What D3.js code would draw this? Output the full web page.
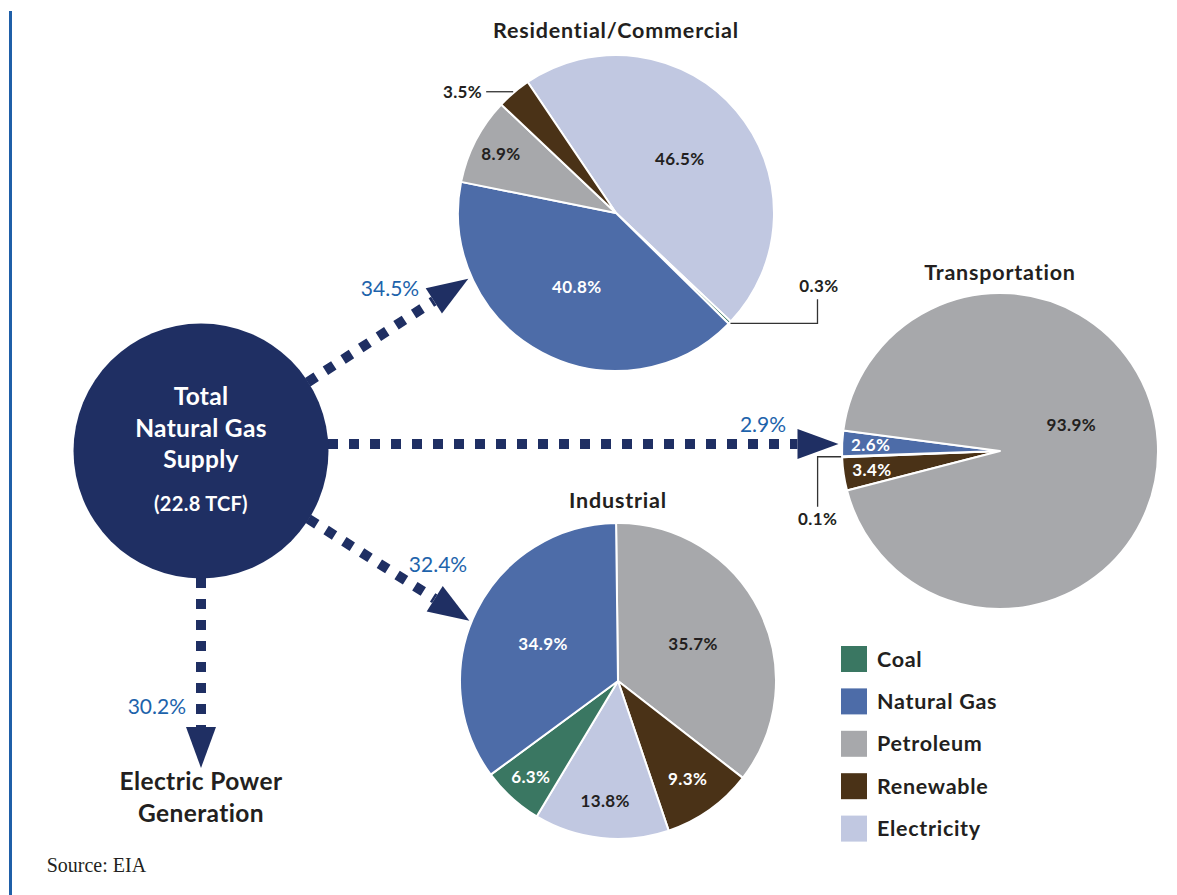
<!DOCTYPE html>
<html><head><meta charset="utf-8">
<script src="https://cdn.jsdelivr.net/npm/d3@7/dist/d3.min.js"></script>
<style>body{margin:0;background:#fff}svg{display:block}</style>
</head><body><svg id="c" width="1177" height="895"></svg>
<script>
// ---------------- data ----------------
const categories = ["Coal","Natural Gas","Petroleum","Renewable","Electricity"];
const categoryColors = ["#3a7762","#4d6ca8","#a7a8ab","#4a3217","#c1c8e1"];
const resCategories = ["Electricity","Coal","Natural Gas","Petroleum","Renewable"];
const resValues = [46.5,0.3,40.8,8.9,3.5];
const transCategories = ["Renewable","Electricity","Natural Gas","Petroleum"];
const transValues = [3.4,0.1,2.6,93.9];
const indCategories = ["Petroleum","Renewable","Electricity","Coal","Natural Gas"];
const indValues = [35.7,9.3,13.8,6.3,34.9];
const sectorNames = ["Residential/Commercial","Transportation","Industrial","Electric Power Generation"];
const sectorShares = [34.5,2.9,32.4,30.2];
const totalSupplyTCF = 22.8;

// ---------------- setup ----------------
const svg = d3.select("#c");
const FONT = "Lato, 'Open Sans', sans-serif";
const DARK = "#231f20", NAVY = "#1f2f63", BLUE = "#1d63ab";
const color = d3.scaleOrdinal().domain(categories).range(categoryColors);
const whiteText = new Set(["Natural Gas","Renewable","Coal"]);
const rad = d => d * Math.PI / 180;
const fmt = v => d3.format(".1f")(v) + "%";

// left rule
svg.append("line").attr("x1",10.5).attr("x2",10.5).attr("y1",11).attr("y2",895)
  .attr("stroke","#1f5fa8").attr("stroke-width",3);

// ---------------- pies ----------------
const pies = [
  {name: sectorNames[0], cats: resCategories, vals: resValues, cx:616, cy:213, r:158, start:-34, titleY:38,
   leaders: {"Renewable": {h:-27, v:0, tx:-4, ty:6, anchor:"end"},
             "Coal": {h:87, v:-24, tx:1.5, ty:-7, anchor:"middle"}}},
  {name: sectorNames[1], cats: transCategories, vals: transValues, cx:1000, cy:451, r:158, start:-104.5, titleY:280,
   angleOverride: {"Petroleum": 70}, radiusOverride: {"Petroleum": 0.48},
   leaders: {"Electricity": {h:-23.5, v:50, tx:0, ty:18, anchor:"middle"}}},
  {name: sectorNames[2], cats: indCategories, vals: indValues, cx:618, cy:681, r:158, start:-0.7, titleY:508,
   leaders: {}}
];

pies.forEach(p => {
  const data = p.cats.map((c,i) => ({cat:c, value:p.vals[i]}));
  const pie = d3.pie().value(d => d.value).sort(null)
    .startAngle(rad(p.start)).endAngle(rad(p.start + 360));
  const arcs = pie(data);
  const arc = d3.arc().innerRadius(0).outerRadius(p.r);
  const g = svg.append("g").attr("transform", `translate(${p.cx},${p.cy})`);
  g.selectAll("path").data(arcs).join("path")
    .attr("d", arc).attr("fill", d => color(d.data.cat))
    .attr("stroke", "#fff").attr("stroke-width", 2).attr("stroke-linejoin","round");

  // title
  svg.append("text").attr("x", p.cx).attr("y", p.titleY).attr("text-anchor","middle")
    .attr("font-family", FONT).attr("font-weight", 700).attr("font-size", 21.5)
    .attr("letter-spacing", 0.8).attr("fill", DARK).text(p.name);

  arcs.forEach(a => {
    const mid = (a.startAngle + a.endAngle) / 2;
    const lead = p.leaders[a.data.cat];
    if (lead) {
      const sx = Math.sin(mid) * (p.r + 1), sy = -Math.cos(mid) * (p.r + 1);
      const pts = [[sx, sy], [sx + lead.h, sy]];
      if (lead.v) pts.push([sx + lead.h, sy + lead.v]);
      g.append("path").attr("d", d3.line()(pts)).attr("fill","none")
        .attr("stroke", "#333").attr("stroke-width", 1.3);
      const end = pts[pts.length - 1];
      g.append("text").attr("x", end[0] + lead.tx).attr("y", end[1] + lead.ty)
        .attr("text-anchor", lead.anchor).attr("font-family", FONT)
        .attr("font-weight", 700).attr("font-size", 17).attr("letter-spacing", 0.4)
        .attr("fill", DARK).text(fmt(a.data.value));
    } else {
      const v = a.data.value;
      let f = v >= 30 ? 0.53 : (v >= 9 ? 0.76 : 0.82);
      let ang = mid;
      if (p.angleOverride && p.angleOverride[a.data.cat] !== undefined) ang = rad(p.angleOverride[a.data.cat]);
      if (p.radiusOverride && p.radiusOverride[a.data.cat] !== undefined) f = p.radiusOverride[a.data.cat];
      g.append("text").attr("x", Math.sin(ang) * p.r * f).attr("y", -Math.cos(ang) * p.r * f)
        .attr("dy", "0.36em").attr("text-anchor","middle").attr("font-family", FONT)
        .attr("font-weight", 700).attr("font-size", 17).attr("letter-spacing", 0.4)
        .attr("fill", whiteText.has(a.data.cat) ? "#fff" : DARK)
        .text(fmt(v));
    }
  });
});

// ---------------- hub & arrows ----------------
const hub = {x:201, y:451, r:127.5};
const arrows = [
  {ox:201, oy:451, angle:-32.8, s:127, e:318, share:sectorShares[0], lx:390, ly:296, anchor:"middle"},
  {ox:201, oy:444, angle:0, s:127, e:637.5, share:sectorShares[1], lx:763, ly:432, anchor:"middle"},
  {ox:201, oy:451, angle:32.3, s:127, e:317.5, share:sectorShares[2], lx:438, ly:572, anchor:"middle"},
  {ox:201, oy:451, angle:90, s:127, e:317, share:sectorShares[3], lx:186, ly:714, anchor:"end"}
];
const HEAD_L = 41, HEAD_W = 30;
arrows.forEach(a => {
  const ux = Math.cos(rad(a.angle)), uy = Math.sin(rad(a.angle));
  const px = -uy, py = ux;
  const x1 = a.ox + ux * a.s, y1 = a.oy + uy * a.s;
  const bx = a.ox + ux * (a.e - HEAD_L), by = a.oy + uy * (a.e - HEAD_L);
  const tx = a.ox + ux * a.e, ty = a.oy + uy * a.e;
  svg.append("line").attr("x1", x1).attr("y1", y1).attr("x2", bx).attr("y2", by)
    .attr("stroke", NAVY).attr("stroke-width", 10).attr("stroke-dasharray", "10,11");
  svg.append("path").attr("d", d3.line()([[tx,ty],[bx + px*HEAD_W/2, by + py*HEAD_W/2],[bx - px*HEAD_W/2, by - py*HEAD_W/2]]) + "Z")
    .attr("fill", NAVY);
  svg.append("text").attr("x", a.lx).attr("y", a.ly).attr("text-anchor", a.anchor)
    .attr("font-family", FONT).attr("font-size", 21).attr("fill", BLUE).text(fmt(a.share));
});

svg.append("circle").attr("cx", hub.x).attr("cy", hub.y).attr("r", hub.r).attr("fill", NAVY);
const hubLines = [["Total",405,24.5],["Natural Gas",437,24.5],["Supply",468,24.5],[`(${totalSupplyTCF} TCF)`,511,20]];
hubLines.forEach(([t,y,s]) => {
  svg.append("text").attr("x", hub.x).attr("y", y).attr("text-anchor","middle")
    .attr("font-family", FONT).attr("font-weight", 700).attr("font-size", s)
    .attr("letter-spacing", 0.3).attr("fill","#fff").text(t);
});

// Electric power generation label
const epWords = sectorNames[3].split(" ");
[[epWords.slice(0,2).join(" "),790],[epWords[2],822]].forEach(([t,y]) => {
  svg.append("text").attr("x", 201).attr("y", y).attr("text-anchor","middle")
    .attr("font-family", FONT).attr("font-weight", 700).attr("font-size", 24.5)
    .attr("letter-spacing", 0.4).attr("fill", DARK).text(t);
});

// ---------------- legend ----------------
const lg = svg.append("g").attr("transform","translate(841,646)");
categories.forEach((c,i) => {
  const y = i * 42.4;
  lg.append("rect").attr("x",0).attr("y",y).attr("width",26).attr("height",26).attr("fill", color(c));
  lg.append("text").attr("x",36).attr("y", y + 20.5).attr("font-family", FONT)
    .attr("font-weight", 700).attr("font-size", 21.5).attr("letter-spacing", 0.7)
    .attr("fill", DARK).text(c);
});

// source
svg.append("text").attr("x", 46.7).attr("y", 871.7)
  .attr("font-family","'Liberation Serif', 'DejaVu Serif', serif").attr("font-size", 20)
  .attr("fill", DARK).text("Source: EIA");
</script></body></html>
